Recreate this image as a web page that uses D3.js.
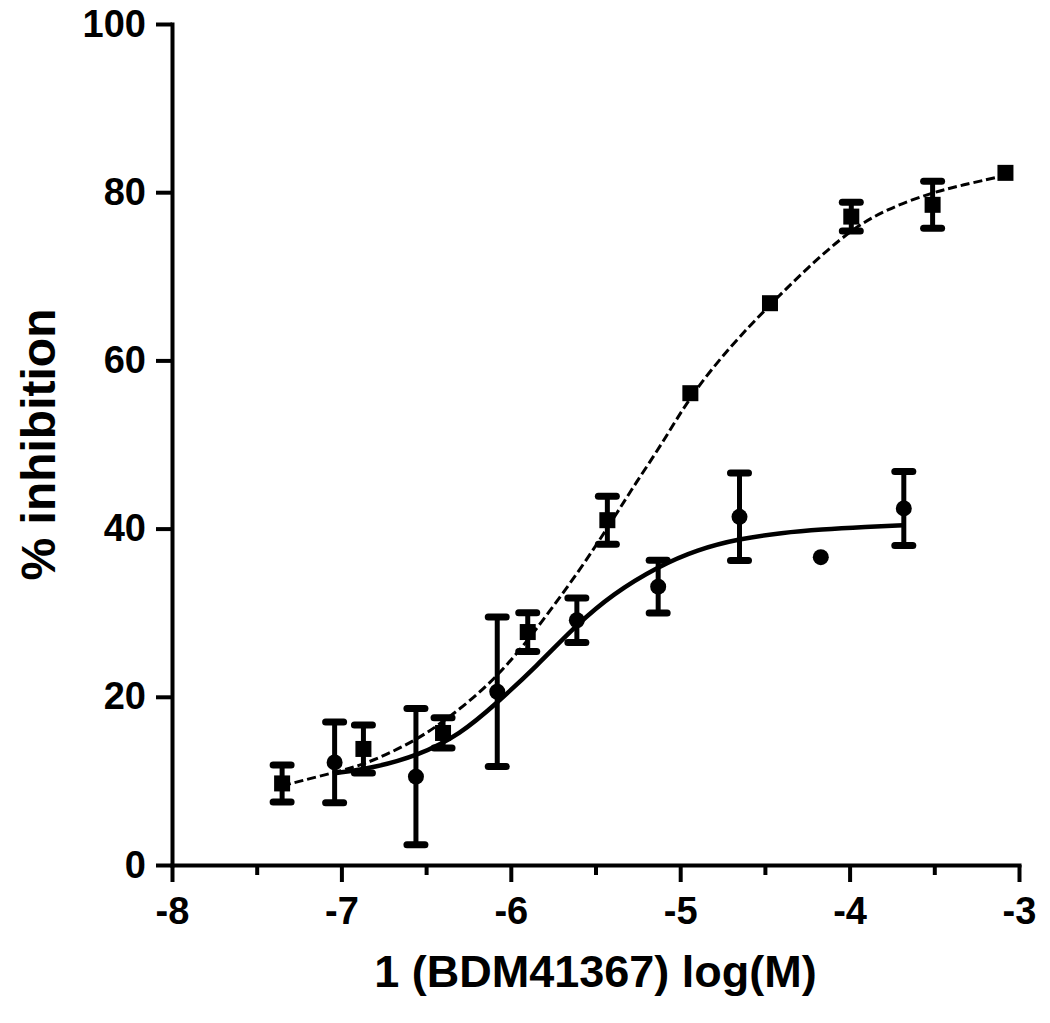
<!DOCTYPE html>
<html>
<head>
<meta charset="utf-8">
<script src="https://cdn.jsdelivr.net/npm/d3@7"></script>
<style>
  html, body { margin: 0; padding: 0; background: #fff; }
  text { font-family: "Liberation Sans", Arial, sans-serif; font-weight: bold; fill: #000; }
</style>
</head>
<body>
<svg id="chart" width="1050" height="1023"></svg>
<script>
// ---- Data ----
const xTicks = [-8, -7, -6, -5, -4, -3];
const xMinorTicks = [-7.5, -6.5, -5.5, -4.5, -3.5];
const yTicks = [0, 20, 40, 60, 80, 100];

// Series A (squares, dashed fit)
const squareX   = [-7.35, -6.87, -6.40, -5.90, -5.43, -4.94, -4.47, -3.99, -3.51, -3.08];
const squareY   = [9.7, 13.8, 15.7, 27.7, 41.0, 56.1, 66.8, 77.1, 78.5, 82.3];
const squareErr = [2.2, 2.85, 1.8, 2.3, 2.85, 0, 0, 1.7, 2.8, 0];

// Series B (circles, solid fit)
const circleX   = [-7.04, -6.56, -6.08, -5.61, -5.13, -4.65, -4.17, -3.68];
const circleY   = [12.2, 10.5, 20.6, 29.1, 33.1, 41.4, 36.6, 42.4];
const circleErr = [4.8, 8.1, 8.9, 2.65, 3.15, 5.2, 0, 4.4];

// Fitted curves, points
const dashedFitX = [-7.35, -7.26, -7.0, -6.83, -6.55, -6.36, -6.14, -5.96, -5.84, -5.59, -5.40, -5.26, -5.10, -4.94, -4.70, -4.47, -4.25, -3.99, -3.78, -3.51, -3.30, -3.08];
const dashedFitY = [9.4, 9.9, 11.2, 12.2, 14.9, 17.6, 21.2, 25.2, 28.3, 35.1, 41.0, 45.5, 50.3, 55.8, 61.8, 66.6, 71.0, 75.6, 78.0, 80.0, 81.0, 82.0];
const solidFitX  = [-7.04, -6.80, -6.55, -6.30, -6.08, -5.85, -5.61, -5.40, -5.13, -4.90, -4.65, -4.40, -4.17, -3.90, -3.68];
const solidFitY  = [10.9, 11.6, 13.0, 15.5, 19.3, 23.6, 28.6, 32.2, 35.5, 37.5, 38.8, 39.5, 39.9, 40.2, 40.4];

const xTitle = "1 (BDM41367) log(M)";
const yTitle = "% inhibition";

// ---- Layout ----
const svg = d3.select("#chart");
const x = d3.scaleLinear().domain([-8, -3]).range([172, 1019]);
const y = d3.scaleLinear().domain([0, 100]).range([865, 24]);

const zip = (xs, ys, es) => xs.map((v, i) => ({x: v, y: ys[i], e: es ? es[i] : 0}));
const squares = zip(squareX, squareY, squareErr);
const circles = zip(circleX, circleY, circleErr);
const dashed = zip(dashedFitX, dashedFitY);
const solid = zip(solidFitX, solidFitY);

// Axes
const xAxis = svg.append("g").attr("transform", `translate(0,${y(0)})`)
  .call(d3.axisBottom(x).tickValues(xTicks).tickSize(17).tickSizeOuter(0).tickPadding(15).tickFormat(d3.format("d")));
const xMinor = svg.append("g").attr("transform", `translate(0,${y(0)})`)
  .call(d3.axisBottom(x).tickValues(xMinorTicks).tickSize(10).tickSizeOuter(0).tickFormat(""));
xMinor.select(".domain").remove();
const yAxis = svg.append("g").attr("transform", `translate(${x(-8)},0)`)
  .call(d3.axisLeft(y).tickValues(yTicks).tickSize(16).tickSizeOuter(0).tickPadding(10).tickFormat(d3.format("d")));

[xAxis, xMinor, yAxis].forEach(g => {
  g.selectAll("path.domain").attr("stroke", "#000").attr("stroke-width", 4).attr("stroke-linecap", "square");
  g.selectAll(".tick line").attr("stroke", "#000").attr("stroke-width", 4);
  g.selectAll(".tick text").style("font-size", "38px").style("font-family", "'Liberation Sans', Arial, sans-serif").style("font-weight", "bold").attr("fill", "#000");
});
xAxis.selectAll(".tick text").text(d => d < 0 ? "-" + Math.abs(d) : d);

// Axis titles
svg.append("text").attr("x", (x(-8) + x(-3)) / 2).attr("y", 987)
  .attr("text-anchor", "middle").style("font-size", "45px").text(xTitle);
svg.append("text").attr("transform", `translate(55,${(y(0) + y(100)) / 2}) rotate(-90)`)
  .attr("text-anchor", "middle").style("font-size", "48px").text(yTitle);

// Fit curves
const line = d3.line().x(d => x(d.x)).y(d => y(d.y)).curve(d3.curveBasis);
svg.append("path").datum(dashed).attr("d", line).attr("fill", "none")
  .attr("stroke", "#000").attr("stroke-width", 3).attr("stroke-dasharray", "9,4");
svg.append("path").datum(solid).attr("d", line).attr("fill", "none")
  .attr("stroke", "#000").attr("stroke-width", 4.5);

// Error bars
function errorBars(data) {
  const g = svg.append("g");
  const withErr = data.filter(d => d.e > 0);
  g.selectAll("line.v").data(withErr).join("line")
    .attr("x1", d => x(d.x)).attr("x2", d => x(d.x))
    .attr("y1", d => y(d.y + d.e)).attr("y2", d => y(d.y - d.e))
    .attr("stroke", "#000").attr("stroke-width", 5);
  ["top", "bot"].forEach(k => {
    g.selectAll("line." + k).data(withErr).join("line")
      .attr("x1", d => x(d.x) - 9).attr("x2", d => x(d.x) + 9)
      .attr("y1", d => y(k === "top" ? d.y + d.e : d.y - d.e))
      .attr("y2", d => y(k === "top" ? d.y + d.e : d.y - d.e))
      .attr("stroke", "#000").attr("stroke-width", 7).attr("stroke-linecap", "round");
  });
}
errorBars(squares);
errorBars(circles);

// Markers
svg.append("g").selectAll("rect").data(squares).join("rect")
  .attr("x", d => x(d.x) - 8).attr("y", d => y(d.y) - 8)
  .attr("width", 16).attr("height", 16).attr("fill", "#000");
svg.append("g").selectAll("circle").data(circles).join("circle")
  .attr("cx", d => x(d.x)).attr("cy", d => y(d.y)).attr("r", 8).attr("fill", "#000");
</script>
</body>
</html>
